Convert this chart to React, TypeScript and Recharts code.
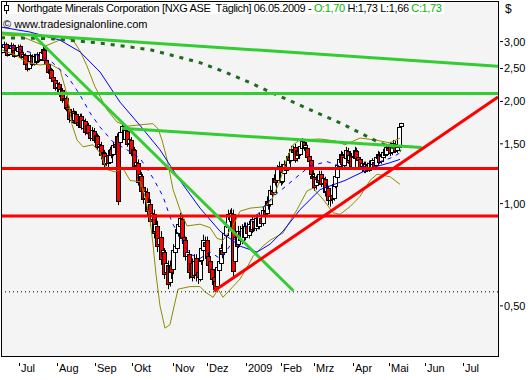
import React from 'react';
import { ComposedChart, Bar, Line, XAxis, YAxis, CartesianGrid, ReferenceLine } from 'recharts';

// trading-day index of the first candle (0 = first day of July 2008)
const FIRST_DAY = -13;

const opens = [
  2.80, 2.90, 2.95, 2.82, 2.76, 2.88, 2.93, 2.84, 2.74, 2.82,
  2.91, 2.79, 2.71, 2.74, 2.58, 2.50, 2.63, 2.72, 2.58, 2.71,
  2.62, 2.74, 2.66, 2.78, 2.84, 2.64, 2.58, 2.44, 2.48, 2.36,
  2.31, 2.20, 2.25, 2.12, 2.16, 2.03, 2.04, 1.92, 1.90, 1.76,
  1.88, 1.76, 1.84, 1.74, 1.70, 1.81, 1.67, 1.75, 1.63, 1.70,
  1.63, 1.56, 1.64, 1.55, 1.58, 1.48, 1.49, 1.38, 1.41, 1.32,
  1.39, 1.33, 1.45, 1.40, 1.50, 1.48, 1.58, 1.52, 1.62, 1.68,
  1.55, 1.64, 1.51, 1.54, 1.42, 1.44, 1.30, 1.32, 1.17, 1.21,
  1.12, 1.04, 1.08, 0.96, 1.00, 0.90, 0.93, 0.83, 0.86, 0.76,
  0.80, 0.70, 0.72, 0.63, 0.66, 0.59, 0.66, 0.64, 0.72, 0.74,
  0.82, 0.86, 0.90, 0.80, 0.78, 0.70, 0.71, 0.64, 0.67, 0.62,
  0.69, 0.63, 0.60, 0.68, 0.73, 0.77, 0.78, 0.70, 0.68, 0.64,
  0.61, 0.59, 0.57, 0.64, 0.67, 0.73, 0.72, 0.81, 0.85, 0.92,
  0.89, 0.93, 0.68, 0.79, 0.76, 0.83, 0.78, 0.85, 0.80, 0.86,
  0.81, 0.86, 0.84, 0.89, 0.85, 0.90, 0.86, 0.91, 0.88, 0.95,
  0.94, 1.01, 1.00, 1.09, 1.08, 1.18, 1.17, 1.26, 1.28, 1.17,
  1.23, 1.30, 1.27, 1.37, 1.35, 1.44, 1.47, 1.36, 1.43, 1.40,
  1.46, 1.52, 1.47, 1.46, 1.38, 1.34, 1.21, 1.20, 1.13, 1.19,
  1.17, 1.22, 1.15, 1.18, 1.09, 1.11, 1.02, 1.06, 1.04, 1.13,
  1.20, 1.29, 1.33, 1.39, 1.30, 1.36, 1.43, 1.34, 1.38, 1.28,
  1.36, 1.43, 1.37, 1.35, 1.29, 1.31, 1.25, 1.30, 1.26, 1.32,
  1.28, 1.33, 1.30, 1.36, 1.39, 1.33, 1.37, 1.41, 1.40, 1.46,
  1.48, 1.42, 1.47, 1.50, 1.44, 1.47, 1.70,
];

const highs = [
  2.95, 3.00, 2.98, 2.86, 2.91, 2.98, 2.96, 2.87, 2.87, 2.94,
  2.94, 2.82, 2.80, 2.77, 2.62, 2.67, 2.77, 2.75, 2.76, 2.75,
  2.79, 2.78, 2.83, 2.90, 2.87, 2.67, 2.61, 2.53, 2.51, 2.39,
  2.34, 2.30, 2.28, 2.21, 2.19, 2.09, 2.07, 1.96, 1.93, 1.90,
  1.91, 1.88, 1.87, 1.78, 1.84, 1.84, 1.79, 1.78, 1.74, 1.73,
  1.67, 1.68, 1.67, 1.62, 1.61, 1.54, 1.52, 1.46, 1.44, 1.41,
  1.43, 1.47, 1.48, 1.52, 1.54, 1.61, 1.61, 1.67, 1.73, 1.71,
  1.68, 1.67, 1.58, 1.57, 1.49, 1.47, 1.37, 1.35, 1.26, 1.24,
  1.15, 1.12, 1.11, 1.04, 1.03, 0.97, 0.96, 0.90, 0.89, 0.82,
  0.83, 0.76, 0.74, 0.70, 0.68, 0.68, 0.69, 0.76, 0.79, 0.87,
  0.90, 0.94, 0.92, 0.83, 0.80, 0.75, 0.73, 0.70, 0.69, 0.71,
  0.71, 0.66, 0.70, 0.77, 0.81, 0.80, 0.80, 0.72, 0.70, 0.67,
  0.63, 0.61, 0.67, 0.71, 0.76, 0.76, 0.84, 0.89, 0.96, 0.96,
  0.97, 0.96, 0.82, 0.82, 0.86, 0.86, 0.87, 0.88, 0.88, 0.88,
  0.89, 0.89, 0.92, 0.91, 0.93, 0.92, 0.94, 0.93, 0.98, 0.98,
  1.05, 1.04, 1.13, 1.12, 1.22, 1.21, 1.30, 1.33, 1.31, 1.27,
  1.34, 1.33, 1.41, 1.40, 1.48, 1.48, 1.50, 1.47, 1.46, 1.51,
  1.56, 1.55, 1.52, 1.49, 1.41, 1.37, 1.25, 1.23, 1.21, 1.22,
  1.25, 1.25, 1.22, 1.20, 1.15, 1.13, 1.08, 1.09, 1.17, 1.24,
  1.33, 1.38, 1.43, 1.42, 1.40, 1.47, 1.46, 1.42, 1.41, 1.40,
  1.47, 1.46, 1.40, 1.37, 1.34, 1.33, 1.33, 1.32, 1.34, 1.34,
  1.36, 1.36, 1.39, 1.43, 1.42, 1.40, 1.45, 1.44, 1.50, 1.50,
  1.52, 1.50, 1.54, 1.53, 1.49, 1.70, 1.73,
];

const lows = [
  2.77, 2.87, 2.80, 2.71, 2.73, 2.85, 2.80, 2.69, 2.71, 2.79,
  2.75, 2.66, 2.67, 2.53, 2.45, 2.47, 2.60, 2.54, 2.55, 2.58,
  2.59, 2.61, 2.63, 2.75, 2.62, 2.52, 2.41, 2.40, 2.31, 2.25,
  2.15, 2.17, 2.06, 2.09, 1.98, 1.99, 1.87, 1.84, 1.73, 1.74,
  1.72, 1.73, 1.70, 1.67, 1.68, 1.65, 1.64, 1.59, 1.60, 1.57,
  1.53, 1.53, 1.51, 1.52, 1.44, 1.45, 1.35, 1.34, 1.28, 1.29,
  1.28, 1.31, 1.36, 1.38, 1.43, 1.46, 0.99, 1.49, 1.59, 1.54,
  1.52, 1.47, 1.48, 1.38, 1.39, 1.26, 1.27, 1.13, 1.14, 1.06,
  1.00, 1.01, 0.92, 0.94, 0.86, 0.88, 0.79, 0.80, 0.72, 0.73,
  0.66, 0.67, 0.60, 0.61, 0.56, 0.57, 0.60, 0.62, 0.69, 0.72,
  0.80, 0.84, 0.77, 0.74, 0.68, 0.67, 0.60, 0.61, 0.59, 0.60,
  0.59, 0.58, 0.59, 0.66, 0.71, 0.73, 0.67, 0.64, 0.60, 0.58,
  0.56, 0.55, 0.56, 0.62, 0.65, 0.69, 0.71, 0.79, 0.83, 0.87,
  0.87, 0.61, 0.66, 0.73, 0.74, 0.76, 0.76, 0.78, 0.78, 0.80,
  0.79, 0.81, 0.82, 0.83, 0.83, 0.84, 0.84, 0.86, 0.86, 0.90,
  0.92, 0.96, 0.98, 1.04, 1.06, 1.13, 1.15, 1.23, 1.13, 1.14,
  1.20, 1.23, 1.25, 1.31, 1.33, 1.39, 1.32, 1.33, 1.36, 1.38,
  1.44, 1.43, 1.44, 1.34, 1.29, 1.19, 1.15, 1.09, 1.10, 1.13,
  1.14, 1.12, 1.13, 1.05, 1.06, 0.99, 0.98, 1.00, 1.02, 1.11,
  1.18, 1.26, 1.31, 1.28, 1.28, 1.34, 1.31, 1.32, 1.26, 1.26,
  1.33, 1.34, 1.32, 1.26, 1.27, 1.23, 1.23, 1.24, 1.24, 1.26,
  1.26, 1.27, 1.28, 1.34, 1.31, 1.31, 1.35, 1.36, 1.38, 1.41,
  1.38, 1.39, 1.44, 1.41, 1.41, 1.46, 1.66,
];

const closes = [
  2.91, 2.96, 2.83, 2.75, 2.87, 2.94, 2.83, 2.73, 2.83, 2.90,
  2.78, 2.70, 2.75, 2.57, 2.49, 2.64, 2.73, 2.57, 2.72, 2.62,
  2.75, 2.65, 2.79, 2.85, 2.65, 2.57, 2.45, 2.49, 2.35, 2.30,
  2.19, 2.26, 2.10, 2.17, 2.02, 2.05, 1.91, 1.89, 1.77, 1.86,
  1.75, 1.85, 1.73, 1.71, 1.80, 1.68, 1.76, 1.62, 1.71, 1.61,
  1.57, 1.65, 1.54, 1.59, 1.47, 1.50, 1.39, 1.42, 1.31, 1.38,
  1.32, 1.44, 1.39, 1.49, 1.47, 1.58, 1.02, 1.63, 1.69, 1.57,
  1.65, 1.50, 1.55, 1.41, 1.45, 1.29, 1.33, 1.16, 1.22, 1.09,
  1.03, 1.09, 0.95, 1.01, 0.89, 0.94, 0.82, 0.87, 0.75, 0.79,
  0.69, 0.73, 0.62, 0.67, 0.58, 0.66, 0.63, 0.73, 0.75, 0.84,
  0.87, 0.91, 0.79, 0.77, 0.70, 0.72, 0.63, 0.67, 0.61, 0.68,
  0.62, 0.61, 0.68, 0.74, 0.78, 0.75, 0.69, 0.66, 0.63, 0.60,
  0.58, 0.56, 0.65, 0.68, 0.74, 0.71, 0.82, 0.86, 0.93, 0.90,
  0.94, 0.63, 0.80, 0.75, 0.83, 0.78, 0.85, 0.80, 0.86, 0.82,
  0.87, 0.83, 0.90, 0.85, 0.91, 0.86, 0.92, 0.88, 0.96, 0.93,
  1.02, 0.99, 1.10, 1.07, 1.19, 1.16, 1.27, 1.29, 1.16, 1.24,
  1.31, 1.26, 1.38, 1.34, 1.45, 1.42, 1.35, 1.44, 1.39, 1.48,
  1.53, 1.46, 1.49, 1.37, 1.33, 1.22, 1.19, 1.12, 1.18, 1.16,
  1.22, 1.14, 1.19, 1.08, 1.12, 1.02, 1.05, 1.03, 1.14, 1.21,
  1.30, 1.35, 1.40, 1.31, 1.37, 1.44, 1.33, 1.39, 1.29, 1.37,
  1.44, 1.36, 1.34, 1.28, 1.32, 1.25, 1.31, 1.26, 1.32, 1.28,
  1.34, 1.29, 1.37, 1.40, 1.33, 1.38, 1.42, 1.39, 1.47, 1.44,
  1.41, 1.48, 1.51, 1.43, 1.47, 1.68, 1.73,
];

const monthTicks = [-3.7, 18.1, 39.4, 60.6, 83.5, 102.8, 125.1, 144.9, 163.8, 185.6, 206.4, 226.8, 248.3];
const monthLabels = ['Jul', 'Aug', 'Sep', 'Okt', 'Nov', 'Dez', '2009', 'Feb', 'Mrz', 'Apr', 'Mai', 'Jun', 'Jul'];
const priceTicks = [0.5, 1, 1.5, 2, 2.5, 3];

// indicator lines as [day, price]
const sma20 = [
  [-13.9, 2.95], [-5.9, 2.87], [3.7, 2.78], [9.9, 2.69], [15, 2.61], [24.1, 2.36], [30.9, 2.09],
  [36.6, 1.85], [42.3, 1.68], [49.6, 1.52], [57.6, 1.44], [65, 1.36], [72.3, 1.19], [78, 1.05],
  [83.1, 0.88], [87.6, 0.8], [93.3, 0.71], [99, 0.69], [104.7, 0.72], [110.3, 0.69], [114.3, 0.73],
  [118.8, 0.79], [124.5, 0.85], [130.2, 0.91], [135.9, 0.99], [141.5, 1.06], [147.2, 1.12], [154, 1.2],
  [161.4, 1.29], [171, 1.33], [178.4, 1.29], [185.8, 1.27], [193.7, 1.29], [201.1, 1.33], [206.8, 1.36],
  [212.4, 1.41],
];
const sma50 = [
  [-13.9, 3.31], [2.6, 3.2], [19.6, 3.03], [30.9, 2.8], [42.3, 2.44], [53.6, 1.99], [64.9, 1.7],
  [76.3, 1.44], [87.6, 1.17], [99, 0.97], [110.3, 0.83], [121.7, 0.75], [131.3, 0.72], [138.7, 0.76],
  [146.1, 0.83], [155.7, 0.96], [167.1, 1.1], [181.2, 1.17], [195.4, 1.27], [206.8, 1.32], [212.4, 1.35],
];
const sma200 = [
  [-13.9, 3.08], [14, 3.06], [42.3, 2.97], [70.6, 2.84], [84.8, 2.72], [99, 2.6], [113.2, 2.44],
  [127.4, 2.27], [141.5, 2.1], [150, 2.01], [165.4, 1.85], [178.4, 1.73], [191.4, 1.6], [201.1, 1.51],
  [213, 1.43],
];
const bollUpper = [
  [-13.9, 3.14], [-3.1, 3.12], [5.4, 2.99], [11.1, 2.91], [16.7, 2.99], [22.4, 3.08], [26.9, 3.03],
  [30.9, 2.82], [34.9, 2.54], [39.4, 2.21], [46.2, 1.89], [51.9, 1.74], [57.6, 1.69], [66.7, 1.71],
  [72.3, 1.72], [75.2, 1.66], [77.4, 1.54], [80.3, 1.35], [83.7, 1.1], [87.6, 0.96], [91.6, 0.86],
  [99, 0.87], [104.7, 0.85], [108.6, 0.79], [112, 0.78], [117.1, 0.85], [121.7, 0.95], [127.4, 0.97],
  [135.9, 0.98], [139.8, 1.03], [144.4, 1.17], [148.3, 1.36], [151.7, 1.49], [155.7, 1.54], [167.1, 1.55],
  [175.6, 1.53], [181.2, 1.49], [189.7, 1.56], [198.2, 1.54], [206.8, 1.51], [212.4, 1.56],
];
const bollLower = [
  [-13.9, 2.84], [-5.9, 2.74], [1.4, 2.6], [8.2, 2.56], [13.9, 2.58], [19.6, 2.48], [23.6, 2.09],
  [26.4, 1.71], [29.2, 1.54], [32.6, 1.47], [38.3, 1.49], [42.3, 1.41], [46.2, 1.26], [50.8, 1.24],
  [55.3, 1.27], [59.3, 1.17], [65, 1.16], [67.8, 1.05], [70.6, 0.9], [72.3, 0.76], [74, 0.62],
  [76.3, 0.5], [79.1, 0.43], [81.9, 0.44], [86.5, 0.56], [93.3, 0.57], [99, 0.57], [101.8, 0.55],
  [106.4, 0.53], [109.2, 0.56], [112, 0.53], [117.7, 0.57], [121.7, 0.6], [125.7, 0.65], [129.1, 0.7],
  [134.7, 0.75], [138.7, 0.78], [146.1, 0.82], [154, 0.96], [159.7, 1.09], [163.1, 1.11], [168.8, 1.03],
  [174.4, 0.94], [178.4, 0.93], [184.1, 0.98], [189.7, 1.05], [195.4, 1.17], [199.4, 1.22], [206.8, 1.2],
  [212.4, 1.14],
];

// drawn lines: [day1, price1, day2, price2]
const greenTrends = [
  [-13.9, 3.18, 268, 2.54],
  [3.5, 3.17, 151.9, 0.554],
  [54.6, 1.667, 224.7, 1.462],
];
const redTrends = [[106.9, 0.553, 268, 2.06]];
const greenLevels = [2.11];
const redLevels = [1.27, 0.92];
const dottedLevels = [0.55];

const candles = closes.map((c, k) => ({
  i: FIRST_DAY + k,
  o: opens[k],
  h: highs[k],
  l: lows[k],
  c,
  range: [lows[k], highs[k]],
}));
const toPoints = (pairs: number[][]) => pairs.map(([i, v]) => ({ i, v }));

const FONT = '"Liberation Sans", Arial, sans-serif';
const X_DOMAIN = [-13.9, 268];
const Y_DOMAIN = [0.356, 3.95];

function Candle(props: any) {
  const { x, y, width, height, payload } = props;
  if (!payload || !Number.isFinite(y) || !Number.isFinite(height)) return null;
  const yTop = Math.min(y, y + height);
  const span = Math.abs(height);
  const cx = Math.floor(x + width / 2) + 0.5;
  const { o, h, l, c } = payload;
  const lnRange = Math.log(h) - Math.log(l);
  const yOf = (v: number) => yTop + (lnRange > 0 ? (span * (Math.log(h) - Math.log(v))) / lnRange : 0);
  const bTop = yOf(Math.max(o, c));
  const bBot = yOf(Math.min(o, c));
  const up = c >= o;
  return (
    <g>
      <line x1={cx} x2={cx} y1={yTop} y2={yTop + span} stroke="#000" strokeWidth={1} />
      <rect
        x={cx - 2}
        y={Math.round(bTop) + 0.5}
        width={4}
        height={Math.max(Math.round(bBot - bTop), 1)}
        fill={up ? '#ffffff' : '#ff0000'}
        stroke="#000"
        strokeWidth={1}
      />
    </g>
  );
}

function PriceTick(props: any) {
  const { x, y, payload } = props;
  return (
    <g>
      <line x1={x} x2={x + 3} y1={y} y2={y} stroke="#000" />
      <text x={x + 4} y={y + 4} fontSize={11} fontFamily={FONT} fill="#000">
        {payload.value.toFixed(2).replace('.', ',')}
      </text>
    </g>
  );
}

function MonthTick(props: any) {
  const { x, y, index } = props;
  const px = Math.round(x) + 0.5;
  return (
    <g>
      <line x1={px} x2={px} y1={y + 5} y2={y + 8} stroke="#000" />
      <text x={px + 1.5} y={y + 14} fontSize={11} fontFamily={FONT} fill="#000">
        {monthLabels[index]}
      </text>
    </g>
  );
}

export default function App() {
  return (
    <div style={{ position: 'absolute', left: 0, top: 0, width: 530, height: 380, background: '#fff', fontFamily: FONT }}>
      <ComposedChart width={530} height={380} data={candles} margin={{ top: 1, right: 0, bottom: 0, left: 1 }}>
        <CartesianGrid fill="#f4f4f4" stroke="none" horizontal={false} vertical={false} />
        <XAxis
          dataKey="i"
          type="number"
          domain={X_DOMAIN}
          allowDataOverflow
          ticks={monthTicks}
          interval={0}
          height={24}
          axisLine={false}
          tickLine={false}
          tickSize={0}
          tick={<MonthTick />}
        />
        <YAxis
          orientation="right"
          scale="log"
          domain={Y_DOMAIN}
          allowDataOverflow
          ticks={priceTicks}
          interval={0}
          width={32}
          axisLine={false}
          tickLine={false}
          tickSize={0}
          tickMargin={2}
          tick={<PriceTick />}
        />
        <Bar dataKey="range" shape={(p: any) => <Candle {...p} />} isAnimationActive={false} />
        <Line data={toPoints(bollUpper)} dataKey="v" stroke="#8c8c00" strokeWidth={1} dot={false} isAnimationActive={false} />
        <Line data={toPoints(bollLower)} dataKey="v" stroke="#8c8c00" strokeWidth={1} dot={false} isAnimationActive={false} />
        <Line data={toPoints(sma20)} dataKey="v" stroke="#0000ff" strokeWidth={1} strokeDasharray="4 5" dot={false} isAnimationActive={false} />
        <Line data={toPoints(sma50)} dataKey="v" stroke="#0000ff" strokeWidth={1} dot={false} isAnimationActive={false} />
        <Line data={toPoints(sma200)} dataKey="v" stroke="#1e6b1e" strokeWidth={3} strokeDasharray="4 6" dot={false} isAnimationActive={false} />
        {dottedLevels.map((v) => (
          <ReferenceLine key={`d${v}`} y={v} stroke="#000" strokeWidth={1} strokeDasharray="1 3" ifOverflow="visible" />
        ))}
        {greenLevels.map((v) => (
          <ReferenceLine key={`g${v}`} y={v} stroke="#33cc33" strokeWidth={3} ifOverflow="visible" />
        ))}
        {redLevels.map((v) => (
          <ReferenceLine key={`r${v}`} y={v} stroke="#ff0000" strokeWidth={3} ifOverflow="visible" />
        ))}
        {greenTrends.map(([a, b, c, d]) => (
          <ReferenceLine
            key={`gt${a}`}
            segment={[{ x: a, y: b }, { x: c, y: d }]}
            stroke="#33cc33"
            strokeWidth={3}
            ifOverflow="visible"
          />
        ))}
        {redTrends.map(([a, b, c, d]) => (
          <ReferenceLine
            key={`rt${a}`}
            segment={[{ x: a, y: b }, { x: c, y: d }]}
            stroke="#ff0000"
            strokeWidth={3}
            ifOverflow="visible"
          />
        ))}
      </ComposedChart>

      <div
        style={{
          position: 'absolute', left: 1, top: 1, width: 498, height: 356,
          boxSizing: 'border-box', border: '1px solid #000', pointerEvents: 'none',
        }}
      />
      <div
        style={{
          position: 'absolute', left: 2, top: 2, height: 12, paddingRight: 2, background: '#fff',
          fontSize: 11, lineHeight: '12px', letterSpacing: '-0.37px', whiteSpace: 'pre',
          display: 'flex', alignItems: 'center', color: '#000',
        }}
      >
        <svg width={15} height={12} style={{ display: 'block' }}>
          <line x1={4.5} x2={4.5} y1={0} y2={12} stroke="#000" />
          <rect x={2.5} y={3.5} width={4} height={5} fill="#fff" stroke="#000" />
        </svg>
        <span>Northgate Minerals Corporation [NXG ASE  Täglich] 06.05.2009 - </span>
        <span style={{ color: '#00b400' }}>O:1,70</span>
        <span> H:1,73 L:1,66 </span>
        <span style={{ color: '#00b400' }}>C:1,73</span>
      </div>
      <div style={{ position: 'absolute', left: 3, top: 18, fontSize: 11, lineHeight: '12px', whiteSpace: 'pre', color: '#000' }}>
        © www.tradesignalonline.com
      </div>
      <div style={{ position: 'absolute', left: 505, top: 3, fontSize: 12, lineHeight: '12px', color: '#000' }}>$</div>
    </div>
  );
}
